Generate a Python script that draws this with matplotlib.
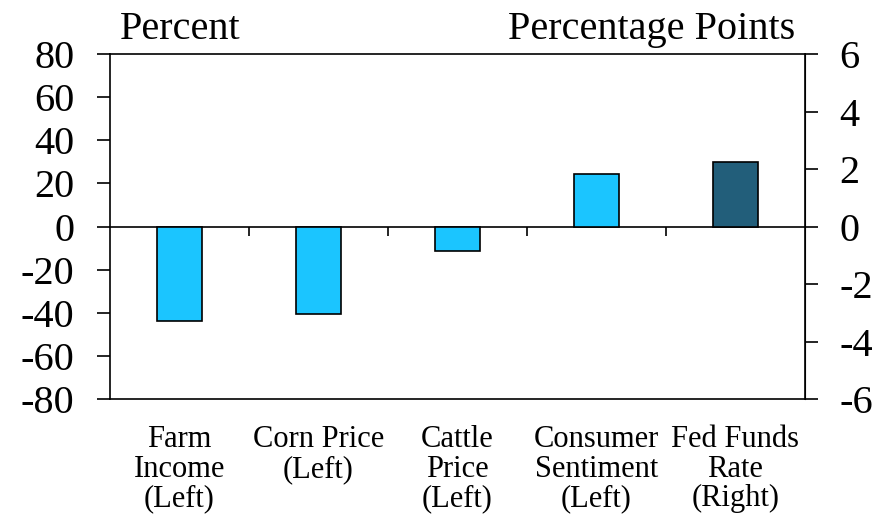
import numpy as np
import matplotlib
matplotlib.use("Agg")
import matplotlib.pyplot as plt

plt.rcParams['font.family'] = ['Liberation Serif', 'DejaVu Serif']
plt.rcParams['axes.unicode_minus'] = False

categories = ["Farm\nIncome\n(Left)", "Corn Price\n(Left)", "Cattle\nPrice\n(Left)",
              "Consumer\nSentiment\n(Left)", "Fed Funds\nRate\n(Right)"]
left_values = [-44, -40.5, -11.5, 24.2]       # percent
right_values = [2.25]                          # percentage points
left_ticks = [-80, -60, -40, -20, 0, 20, 40, 60, 80]
right_ticks = [-6, -4, -2, 0, 2, 4, 6]

light = '#1BC5FF'
dark = '#225E7A'

fig = plt.figure(figsize=(8.75, 5.28), dpi=100)
ax = fig.add_axes([0.1257, 0.2443, 0.7943, 0.6534])
ax2 = ax.twinx()

x = np.arange(len(categories))
ax.bar(x[:len(left_values)], left_values, width=0.32, color=light,
       edgecolor='black', linewidth=1.2, zorder=3)
ax2.bar(x[len(left_values):], right_values, width=0.32, color=dark,
        edgecolor='black', linewidth=1.2, zorder=3)

ax.set_xlim(-0.5, len(categories) - 0.5)
ax.set_ylim(-80, 80)
ax2.set_ylim(-6, 6)
ax.set_yticks(left_ticks)
ax2.set_yticks(right_ticks)

# zero line with category divider ticks
ax.spines['bottom'].set_position(('data', 0))
ax.set_xticks(x[:-1] + 0.5)
ax.set_xticklabels([])
ax.tick_params(axis='x', direction='out', length=6.5, width=1.2)

# category labels along the bottom frame
sec = ax.secondary_xaxis('bottom')
sec.set_xticks(x)
sec.set_xticklabels(categories, fontsize=22, linespacing=1.02)
sec.tick_params(length=0, pad=19)
sec.spines['bottom'].set_linewidth(1.2)

for s in ['left', 'top', 'bottom']:
    ax.spines[s].set_linewidth(1.2)
for s in ['left', 'top', 'bottom']:
    ax2.spines[s].set_visible(False)
ax2.spines['right'].set_linewidth(1.2)

ax.tick_params(axis='y', direction='out', length=9.5, width=1.2, pad=16, labelsize=29)
ax2.tick_params(axis='y', direction='out', length=9, width=1.2, pad=16, labelsize=29)

ax.text(0.0144, 1.018, "Percent", transform=ax.transAxes, fontsize=29,
        ha='left', va='bottom')
ax.text(0.9856, 1.018, "Percentage Points", transform=ax.transAxes, fontsize=29,
        ha='right', va='bottom')

fig.savefig("out.png", dpi=100)
